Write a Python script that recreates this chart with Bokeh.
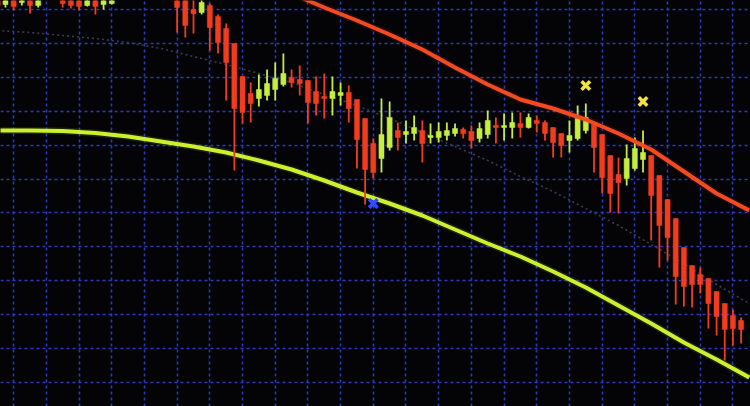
from bokeh.plotting import figure
from bokeh.models import Range1d, FixedTicker, ColumnDataSource, GlobalInlineStyleSheet
from bokeh.embed import file_html
from bokeh.resources import INLINE

# ---- candle data (index = bar number, values in price points) ----
candle_idx = [0, 1, 2, 3, 4, 5, 8, 9, 10, 11, 12, 13, 14,
              22, 23, 24, 25, 26, 27, 28, 29, 30, 31,
              32, 33, 34, 35, 36, 37, 38, 39, 40, 41,
              42, 43, 44, 45, 46, 47, 48, 49, 50, 51,
              52, 53, 54, 55, 56, 57, 58, 59, 60, 61,
              62, 63, 64, 65, 66, 67, 68, 69, 70, 71,
              72, 73, 74, 75, 76, 77, 78, 79, 80, 81,
              82, 83, 84, 85, 86, 87, 88, 89, 90, 91]
open_ = [412, 402, 411, 404, 412, 401, 416, 412, 410, 401, 410, 402, 403,
         410, 406, 397, 394, 401, 390, 378, 363, 330, 313,
         308, 311, 317, 322, 329, 327, 326, 315, 310, 308,
         311, 314, 307, 288, 263, 248, 259, 276, 272, 273,
         276, 269, 269, 271, 273, 277, 275, 268, 272, 281,
         279, 279, 283, 279, 286, 284, 279, 273, 266, 268,
         276, 282, 272, 251, 232, 228, 238, 247, 251, 231,
         207, 188, 159, 141, 132, 128, 115, 103, 91, 86]
high = [416, 414, 414, 413, 415, 415, 420, 416, 414, 412, 414, 416, 418,
        414, 409, 408, 408, 403, 392, 383, 363, 330, 324,
        332, 337, 344, 353, 337, 341, 326, 330, 333, 330,
        324, 321, 307, 288, 268, 308, 305, 284, 286, 291,
        286, 283, 284, 284, 283, 279, 281, 284, 296, 289,
        293, 294, 294, 293, 291, 286, 279, 273, 286, 301,
        303, 282, 272, 251, 249, 262, 269, 276, 251, 231,
        207, 188, 159, 141, 139, 128, 115, 103, 97, 89]
low = [398, 399, 396, 401, 393, 399, 399, 398, 396, 400, 392, 397, 402,
       374, 369, 373, 392, 356, 353, 306, 236, 283, 284,
       300, 306, 306, 320, 319, 311, 283, 291, 288, 291,
       301, 284, 238, 202, 228, 234, 256, 256, 263, 266,
       244, 263, 264, 266, 270, 268, 258, 264, 268, 263,
       266, 268, 269, 278, 274, 266, 249, 249, 254, 266,
       273, 234, 213, 194, 193, 221, 236, 234, 166, 139,
       146, 102, 100, 99, 113, 78, 71, 46, 61, 63]
close = [401, 409, 400, 410, 401, 411, 403, 401, 400, 409, 400, 412, 414,
         399, 381, 393, 404, 379, 364, 344, 298, 294, 303,
         317, 323, 328, 333, 324, 323, 304, 303, 308, 315,
         314, 298, 267, 237, 234, 272, 289, 269, 275, 279,
         263, 271, 275, 276, 278, 273, 266, 278, 286, 279,
         281, 284, 279, 289, 283, 273, 264, 261, 271, 288,
         289, 259, 229, 213, 224, 248, 258, 254, 211, 181,
         169, 130, 120, 122, 122, 103, 90, 77, 78, 77]

# ---- moving averages (sampled every 4 bars) ----
slow_ma_idx = [0, 4, 8, 12, 16, 20, 24, 28, 32, 36, 40, 44, 48, 52, 56, 60,
               64, 68, 72, 76, 80, 84, 88, 92]
slow_ma = [276, 276, 275.5, 273.5, 270, 265, 260, 254, 246, 237, 226, 214,
           203, 191, 177, 163, 150, 135, 119, 101, 83, 64, 47, 29]

fast_ma_idx = [32, 36, 40, 44, 48, 52, 56, 60, 64, 68, 72, 76, 80, 84, 88, 92]
fast_ma = [426, 413, 399, 386, 372, 357, 339, 322, 307, 298, 287, 273, 257,
           235, 213, 196]

mid_ma_idx = slow_ma_idx
mid_ma = [376, 374, 371, 368, 364, 358, 350, 342, 333, 324, 312, 301, 288,
          274, 260, 246, 230, 215, 198, 181, 162, 143, 122, 103]

# ---- signal markers ----
sell_idx = [72, 79]
sell_val = [321, 305]
buy_idx = [46]
buy_val = [203]

RED = "#f23c1e"
GREEN = "#c4ee40"

colors = [GREEN if c >= o else RED for o, c in zip(open_, close)]
src = ColumnDataSource(dict(
    x=candle_idx, high=high, low=low,
    top=[max(o, c) for o, c in zip(open_, close)],
    bottom=[min(o, c) for o, c in zip(open_, close)],
    color=colors,
))

p = figure(width=750, height=406, output_backend="svg", toolbar_location=None,
           x_range=Range1d(0.39, 92.15), y_range=Range1d(0, 406),
           background_fill_color="#040407", border_fill_color="#040407",
           outline_line_color=None, min_border=0)
p.xaxis.visible = False
p.yaxis.visible = False

p.xgrid.ticker = FixedTicker(ticks=list(range(2, 92, 4)))
p.ygrid.ticker = FixedTicker(ticks=[397 - 33.9 * j for j in range(12)])
for g in (p.xgrid, p.ygrid):
    g.grid_line_color = "#2d3cc4"
    g.grid_line_dash = "3 3"
    g.grid_line_width = 1.6
    g.grid_line_alpha = 0.95

# dotted middle average
p.line(mid_ma_idx, mid_ma, line_color="#3a3a55", line_width=1.6, line_dash="2 3")

# slow average (yellow-green) with soft glow
p.line(slow_ma_idx, slow_ma, line_color="#c8ee2c", line_width=7, line_alpha=0.12,
       line_join="round")
p.line(slow_ma_idx, slow_ma, line_color="#cdf02e", line_width=4, line_join="round")

# candles
p.segment(x0="x", x1="x", y0="low", y1="high", line_color="color",
          line_width=1.8, source=src)
p.vbar(x="x", width=0.62, top="top", bottom="bottom", fill_color="color",
       line_color="color", line_width=0.5, source=src)

# fast average (red) with soft glow
p.line(fast_ma_idx, fast_ma, line_color="#f04a22", line_width=7, line_alpha=0.12,
       line_join="round")
p.line(fast_ma_idx, fast_ma, line_color="#f44a22", line_width=4, line_join="round")

# signal markers
p.scatter(sell_idx, sell_val, marker="x", size=12, line_color="#f3e046",
          line_width=3.5)
p.scatter(buy_idx, buy_val, marker="x", size=12, line_color="#2f4dff",
          line_width=3.5)

p.stylesheets = [GlobalInlineStyleSheet(
    css="html,body{margin:0;padding:0;background:#040407;overflow:hidden;}")]

open("out.html", "w").write(file_html(p, INLINE))
